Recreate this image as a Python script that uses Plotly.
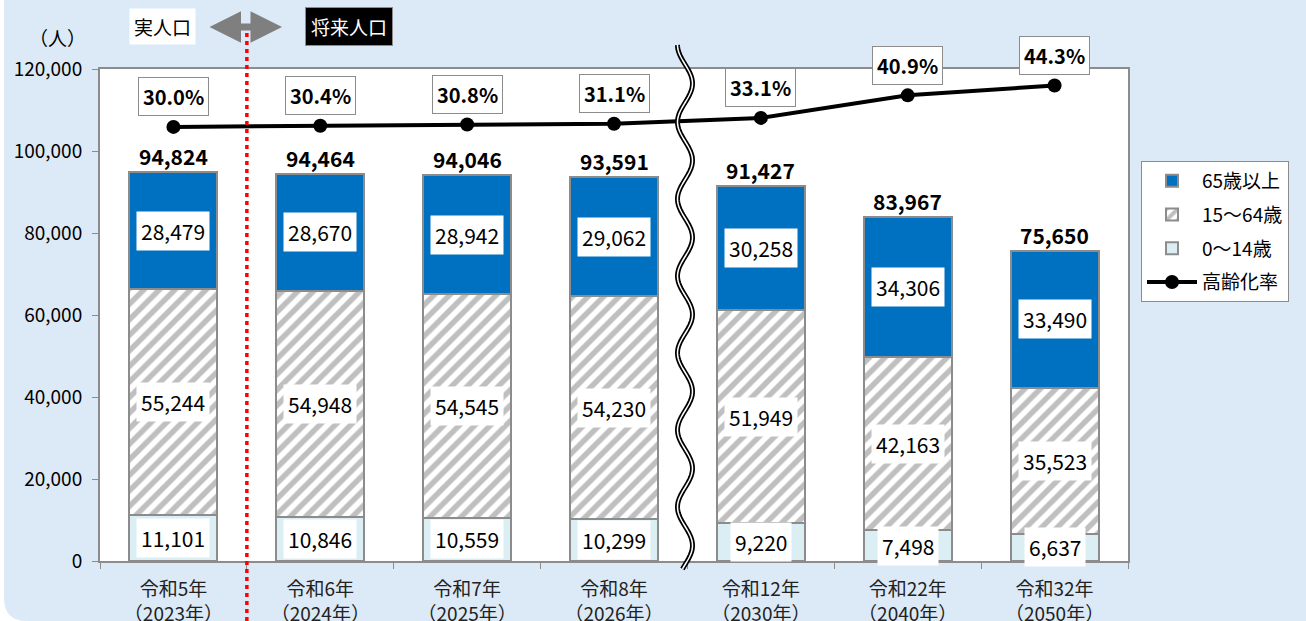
import math
import plotly.graph_objects as go

# data
categories = [
    "令和5年<br>（2023年）",
    "令和6年<br>（2024年）",
    "令和7年<br>（2025年）",
    "令和8年<br>（2026年）",
    "令和12年<br>（2030年）",
    "令和22年<br>（2040年）",
    "令和32年<br>（2050年）",
]
age_65_over = [28479, 28670, 28942, 29062, 30258, 34306, 33490]
age_15_64 = [55244, 54948, 54545, 54230, 51949, 42163, 35523]
age_0_14 = [11101, 10846, 10559, 10299, 9220, 7498, 6637]
totals = [94824, 94464, 94046, 93591, 91427, 83967, 75650]
aging_rate = [30.0, 30.4, 30.8, 31.1, 33.1, 40.9, 44.3]
y_ticks = [0, 20000, 40000, 60000, 80000, 100000, 120000]

WIDTH, HEIGHT = 1306, 621
ML, MR, MT, MB = 100, 178, 69, 60
FONT = "Noto Sans CJK JP, Noto Sans, sans-serif"
BG = "#DCE9F6"
BLUE = "#0070C0"
LIGHT = "#DAEEF3"
GREY = "#8C8C8C"


def px(x):
    return (x - ML) / (WIDTH - ML - MR)


def py(y):
    return (HEIGHT - MB - y) / (HEIGHT - MT - MB)


def wave_path(x_mid, y_top, y_bot, amp=7.5, period=77.0):
    pts = []
    y = y_top
    while y <= y_bot:
        x = x_mid - amp * math.cos(2 * math.pi * (y - y_top) / period)
        pts.append((px(x), py(y)))
        y += 2
    return "M " + " L ".join(f"{a:.5f},{b:.5f}" for a, b in pts)


def build_figure():
    fig = go.Figure()
    bar_line = dict(color=GREY, width=2)
    fig.add_bar(
        x=categories, y=age_0_14, name="0～14歳",
        marker=dict(color=LIGHT, line=bar_line), legendrank=3, legendgroup="c",
    )
    fig.add_bar(
        x=categories, y=age_15_64, name="15～64歳",
        marker=dict(
            color="white", line=bar_line,
            pattern=dict(shape="/", fgcolor="#808080", bgcolor="white", size=11, solidity=0.5),
        ),
        legendrank=2, legendgroup="b",
    )
    fig.add_bar(
        x=categories, y=age_65_over, name="65歳以上",
        marker=dict(color=BLUE, line=bar_line), legendrank=1, legendgroup="a",
    )
    fig.add_scatter(
        x=categories, y=aging_rate, name="高齢化率", yaxis="y2",
        mode="lines+markers",
        line=dict(color="black", width=4),
        marker=dict(color="black", size=14),
        legendrank=4, legendgroup="d",
    )

    annotations = []
    for i, cat in enumerate(categories):
        base = 0
        for seg in (age_0_14[i], age_15_64[i], age_65_over[i]):
            annotations.append(dict(
                x=cat, y=base + seg / 2, text=f"{seg:,}", showarrow=False,
                bgcolor="white", borderpad=4,
                font=dict(size=21, color="black"),
            ))
            base += seg
        annotations.append(dict(
            x=cat, y=totals[i], text=f"<b>{totals[i]:,}</b>", showarrow=False,
            yanchor="bottom", yshift=-1, font=dict(size=21, color="black"),
        ))
        annotations.append(dict(
            x=cat, y=aging_rate[i], yref="y2", text=f"<b>{aging_rate[i]:.1f}%</b>",
            showarrow=False, yshift=30, bgcolor="white", bordercolor=GREY,
            borderwidth=1, borderpad=4, font=dict(size=20, color="black"),
        ))

    # header labels and arrow
    annotations.append(dict(
        x=px(162), y=py(27), xref="paper", yref="paper", text="実人口",
        xanchor="center", yanchor="middle",
        showarrow=False, bgcolor="white", borderpad=4,
        font=dict(size=19, color="black"),
    ))
    annotations.append(dict(
        x=px(349), y=py(26), xref="paper", yref="paper", text="将来人口",
        xanchor="center", yanchor="middle",
        showarrow=False, bgcolor="black", bordercolor=GREY, borderwidth=1,
        borderpad=5, font=dict(size=19, color="white"),
    ))
    annotations.append(dict(
        x=px(282), y=py(27), xref="paper", yref="paper", text="",
        showarrow=True, axref="pixel", ayref="pixel", ax=-74, ay=0,
        arrowside="end+start", arrowhead=2, arrowsize=0.9, arrowwidth=7,
        arrowcolor="#7F7F7F",
    ))
    annotations.append(dict(
        x=px(57), y=py(37), xref="paper", yref="paper", text="（人）",
        xanchor="center", yanchor="middle",
        showarrow=False, font=dict(size=19, color="black"),
    ))

    shapes = [
        # rounded bottom-left corner of the panel
        dict(
            type="path", xref="paper", yref="paper", layer="below",
            path=(f"M {px(0)},{py(621)} L {px(0)},{py(0)} L {px(4)},{py(0)} "
                  f"L {px(4)},{py(598)} Q {px(4)},{py(621)} {px(27)},{py(621)} Z"),
            fillcolor="white", line=dict(width=0),
        ),
        # boundary between actual and projected population
        dict(
            type="line", xref="x", yref="paper", x0=0.5, x1=0.5,
            y0=py(621), y1=py(33), line=dict(color="#FF0000", width=3.5, dash="4px,4px"),
        ),
        # axis break mark
        dict(type="path", xref="paper", yref="paper", path=wave_path(685, 45, 570),
             line=dict(color="black", width=5)),
        dict(type="path", xref="paper", yref="paper", path=wave_path(685, 45, 570),
             line=dict(color="white", width=1.5)),
    ]

    fig.update_layout(
        width=WIDTH, height=HEIGHT,
        margin=dict(l=ML, r=MR, t=MT, b=MB),
        paper_bgcolor=BG, plot_bgcolor="white",
        barmode="stack", bargap=0.4,
        font=dict(family=FONT, size=19, color="black"),
        xaxis=dict(
            showline=True, linecolor=GREY, linewidth=2, mirror=True,
            ticks="outside", tickson="boundaries", ticklen=6, tickcolor=GREY,
            tickfont=dict(size=19, color="#222"), showgrid=False,
            ticklabelstandoff=10, automargin=False,
        ),
        yaxis=dict(
            range=[0, 120000], tickvals=y_ticks, tickformat=",",
            showline=True, linecolor=GREY, linewidth=2, mirror=True,
            ticks="outside", ticklen=6, tickcolor=GREY, showgrid=False,
            tickfont=dict(size=19, color="black"), zeroline=False,
            ticklabelstandoff=6, automargin=False,
        ),
        yaxis2=dict(range=[-120, 50], overlaying="y", visible=False),
        legend=dict(
            x=px(1141), y=py(161), xanchor="left", yanchor="top",
            bgcolor="white", bordercolor=GREY, borderwidth=1,
            traceorder="grouped", font=dict(size=19), itemwidth=50,
            tracegroupgap=6,
        ),
        annotations=annotations,
        shapes=shapes,
    )
    return fig


def main():
    fig = build_figure()
    fig.write_html(
        "out.html",
        config={"displayModeBar": False},
        post_script="document.body.style.margin='0';",
    )


if __name__ == "__main__":
    main()
